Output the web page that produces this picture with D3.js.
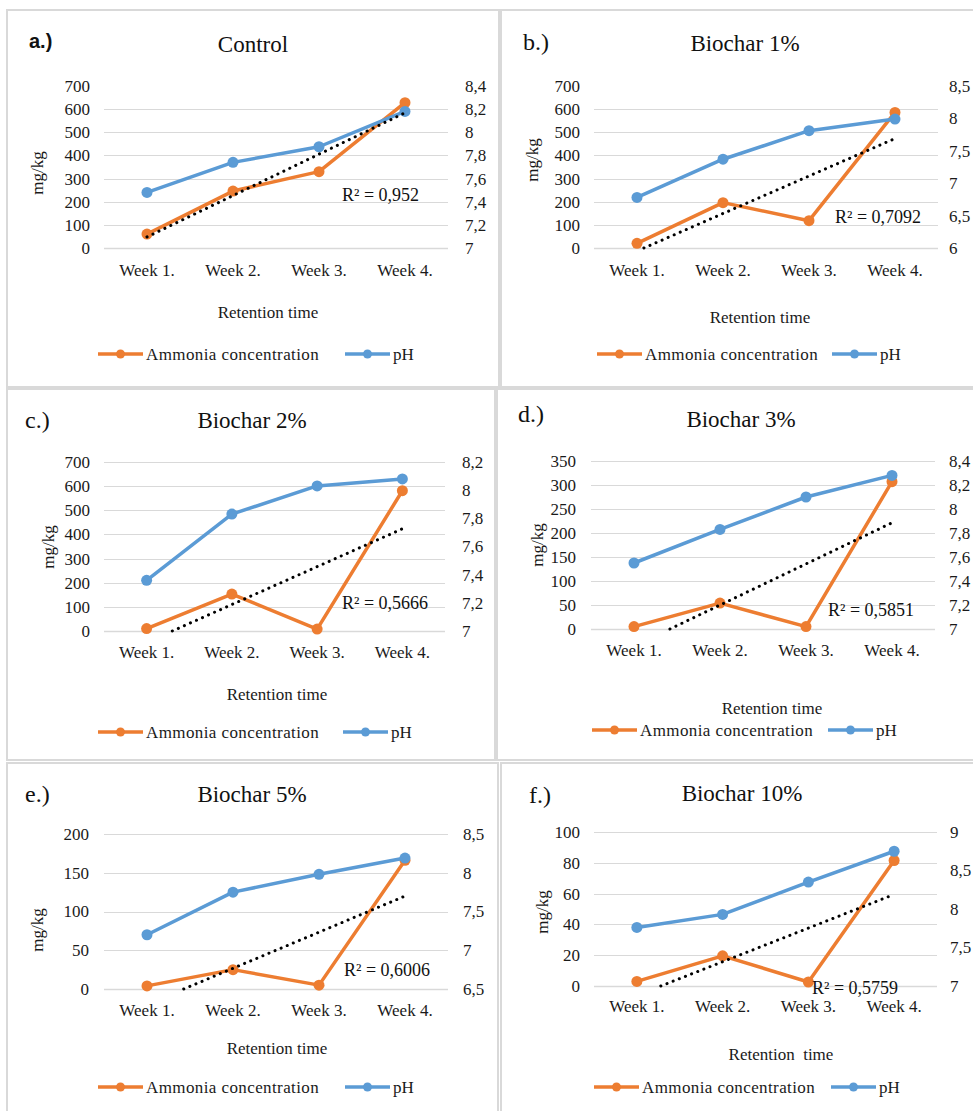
<!DOCTYPE html>
<html>
<head>
<meta charset="utf-8">
<script src="https://cdn.jsdelivr.net/npm/d3@7"></script>
<style>
  html, body { margin: 0; padding: 0; background: #fff; }
  svg { display: block; }
</style>
</head>
<body>
<svg id="chart" width="973" height="1111"></svg>
<script>
// ---------- DATA ----------
const weeks = ["Week 1.", "Week 2.", "Week 3.", "Week 4."];
const panelLetters = ["a.)", "b.)", "c.)", "d.)", "e.)", "f.)"];
const panelTitles = ["Control", "Biochar 1%", "Biochar 2%", "Biochar 3%", "Biochar 5%", "Biochar 10%"];
const seriesNames = ["Ammonia concentration", "pH"];
const xAxisTitles = ["Retention time", "Retention time", "Retention time", "Retention time", "Retention time", "Retention  time"];
const yAxisTitle = "mg/kg";

const ammoniaControl = [60, 246, 330, 628];
const ammoniaB1 = [20, 196, 118, 586];
const ammoniaB2 = [10, 153, 8, 581];
const ammoniaB3 = [5, 54, 5, 307];
const ammoniaB5 = [4, 25, 5, 166];
const ammoniaB10 = [3, 19.6, 2.6, 81.5];

const phControl = [7.48, 7.74, 7.875, 8.18];
const phB1 = [6.78, 7.37, 7.81, 7.99];
const phB2 = [7.36, 7.83, 8.03, 8.08];
const phB3 = [7.55, 7.83, 8.10, 8.28];
const phB5 = [7.20, 7.75, 7.98, 8.19];
const phB10 = [7.76, 7.93, 8.35, 8.75];

const r2Labels = ["R² = 0,952", "R² = 0,7092", "R² = 0,5666", "R² = 0,5851", "R² = 0,6006", "R² = 0,5759"];

const leftMax = [700, 700, 700, 350, 200, 100];
const leftStep = [100, 100, 100, 50, 50, 20];
const rightMin = [7, 6, 7, 7, 6.5, 7];
const rightMax = [8.4, 8.5, 8.2, 8.4, 8.5, 9];
const rightStep = [0.2, 0.5, 0.2, 0.2, 0.5, 0.5];

const ammoniaAll = [ammoniaControl, ammoniaB1, ammoniaB2, ammoniaB3, ammoniaB5, ammoniaB10];
const phAll = [phControl, phB1, phB2, phB3, phB5, phB10];

// ---------- LAYOUT ----------
const layout = [
  { box:[7,10,492,377], letter:[29,48], letterSans:true, title:[253,52], plot:[104,448,86,248], xlabY:276, axT:[268,318], legY:354, legO:98, legB:345, mg:[37,173], r2:[342,201], rX:465, lX:90, topGrid:false },
  { box:[501,10,480,377], letter:[523,50], title:[745,51], plot:[594,938,86,248], xlabY:276, axT:[760,323], legY:354, legO:597, legB:832, mg:[532,160], r2:[835,223], rX:949, lX:580, topGrid:false },
  { box:[7,389,488,371], letter:[25,428], title:[252,428], plot:[104,445,462,631], xlabY:658, axT:[277,700], legY:732, legO:98, legB:343, mg:[48,547], r2:[342,609], rX:462, lX:90, topGrid:true },
  { box:[497,389,480,371], letter:[518,422], title:[741,427], plot:[591,935,461,629], xlabY:656, axT:[772,714], legY:730, legO:592, legB:828, mg:[537,545], r2:[828,616], rX:949, lX:576, topGrid:true },
  { box:[7,763,491,352], letter:[25,802], title:[252,802], plot:[104,448,834,989], xlabY:1016, axT:[277,1054], legY:1087, legO:98, legB:345, mg:[37,930], r2:[344,976], rX:463, lX:89, topGrid:true },
  { box:[501,763,480,352], letter:[529,803], title:[742,801], plot:[594,937,832,986], xlabY:1012, axT:[781,1060], legY:1087, legO:594, legB:831, mg:[542,912], r2:[812,994], rX:950, lX:580, topGrid:true }
];

const SERIF = "'Liberation Serif', Tinos, 'Times New Roman', serif";
const SANS = "'Liberation Sans', Arimo, Arial, sans-serif";
const ORANGE = "#ED7D31", BLUE = "#5B9BD5", GRID = "#d9d9d9", INK = "#1a1a1a";
const fmt = d3.formatLocale({decimal: ",", thousands: " ", grouping: [3], currency: ["", ""]}).format(".2~f");

const svg = d3.select("#chart");

function range(a, b, s) { const out = []; const n = Math.round((b - a) / s); for (let i = 0; i <= n; i++) out.push(+(a + i * s).toFixed(6)); return out; }

function txt(sel, size) {
  return sel.attr("font-family", SERIF).attr("font-size", size).attr("fill", INK);
}

panelTitles.forEach((title, i) => {
  const L = layout[i];
  const g = svg.append("g");
  const [px0, px1, pyTop, pyBot] = L.plot;

  // panel frame
  g.append("rect").attr("x", L.box[0]).attr("y", L.box[1]).attr("width", L.box[2]).attr("height", L.box[3])
    .attr("fill", "none").attr("stroke", GRID).attr("stroke-width", 2);

  const x = d3.scaleBand().domain(weeks).range([px0, px1]).padding(0);
  const xc = d => x(d) + x.bandwidth() / 2;
  const yL = d3.scaleLinear().domain([0, leftMax[i]]).range([pyBot, pyTop]);
  const yR = d3.scaleLinear().domain([rightMin[i], rightMax[i]]).range([pyBot, pyTop]);

  const lTicks = range(0, leftMax[i], leftStep[i]);
  const rTicks = range(rightMin[i], rightMax[i], rightStep[i]);

  // gridlines
  g.append("g").selectAll("line").data(lTicks.filter(t => L.topGrid || t < leftMax[i])).join("line")
    .attr("x1", px0).attr("x2", px1).attr("y1", d => Math.round(yL(d)) + 0.5).attr("y2", d => Math.round(yL(d)) + 0.5)
    .attr("stroke", GRID).attr("stroke-width", d => d === 0 ? 1.6 : 1.2);

  // left tick labels
  txt(g.append("g").selectAll("text").data(lTicks).join("text"), 17)
    .attr("x", L.lX).attr("y", d => yL(d)).attr("dy", "0.35em").attr("text-anchor", "end")
    .text(d => fmt(d));
  // right tick labels
  txt(g.append("g").selectAll("text").data(rTicks).join("text"), 17)
    .attr("x", L.rX).attr("y", d => yR(d)).attr("dy", "0.35em").attr("text-anchor", "start")
    .text(d => fmt(d));
  // x labels
  txt(g.append("g").selectAll("text").data(weeks).join("text"), 17)
    .attr("x", d => xc(d)).attr("y", L.xlabY).attr("text-anchor", "middle")
    .text(d => d);

  // axis titles
  txt(g.append("text"), 17).attr("x", L.axT[0]).attr("y", L.axT[1]).attr("text-anchor", "middle")
    .attr("xml:space", "preserve").style("white-space", "pre").text(xAxisTitles[i]);
  txt(g.append("text"), 17).attr("transform", `translate(${L.mg[0]},${L.mg[1]}) rotate(-90)`)
    .attr("text-anchor", "middle").attr("dominant-baseline", "central")
    .text(yAxisTitle);

  // letter + title
  g.append("text").attr("x", L.letter[0]).attr("y", L.letter[1])
    .attr("font-family", L.letterSans ? SANS : SERIF)
    .attr("font-weight", L.letterSans ? "bold" : "normal")
    .attr("font-size", L.letterSans ? 20 : 24).attr("fill", "#111").text(panelLetters[i]);
  g.append("text").attr("x", L.title[0]).attr("y", L.title[1]).attr("text-anchor", "middle")
    .attr("font-family", SERIF).attr("font-size", 23).attr("fill", "#111").text(title);

  // series
  const amm = ammoniaAll[i], ph = phAll[i];
  const lineL = d3.line().x((d, k) => xc(weeks[k])).y(d => yL(d));
  const lineR = d3.line().x((d, k) => xc(weeks[k])).y(d => yR(d));

  g.append("path").attr("d", lineL(amm)).attr("fill", "none").attr("stroke", ORANGE).attr("stroke-width", 3.5).attr("stroke-linejoin", "round");
  g.append("g").selectAll("circle").data(amm).join("circle")
    .attr("cx", (d, k) => xc(weeks[k])).attr("cy", d => yL(d)).attr("r", 5.5).attr("fill", ORANGE);

  g.append("path").attr("d", lineR(ph)).attr("fill", "none").attr("stroke", BLUE).attr("stroke-width", 3.5).attr("stroke-linejoin", "round");
  g.append("g").selectAll("circle").data(ph).join("circle")
    .attr("cx", (d, k) => xc(weeks[k])).attr("cy", d => yR(d)).attr("r", 5.5).attr("fill", BLUE);

  // linear trendline of ammonia (least squares), clipped at axis minimum
  const xs = [1, 2, 3, 4];
  const mx = d3.mean(xs), my = d3.mean(amm);
  const slope = d3.sum(xs.map((t, k) => (t - mx) * (amm[k] - my))) / d3.sum(xs.map(t => (t - mx) ** 2));
  const icpt = my - slope * mx;
  let t0 = 1; const t1 = 4;
  if (slope * t0 + icpt < 0) t0 = -icpt / slope;
  const step = x.step();
  const tx = t => xc(weeks[0]) + (t - 1) * step;
  g.append("line").attr("x1", tx(t0)).attr("y1", yL(slope * t0 + icpt)).attr("x2", tx(t1)).attr("y2", yL(slope * t1 + icpt))
    .attr("stroke", "#000").attr("stroke-width", 3).attr("stroke-linecap", "round").attr("stroke-dasharray", "0.1,6.5");

  // R² label
  g.append("text").attr("x", L.r2[0]).attr("y", L.r2[1]).attr("font-family", SERIF).attr("font-size", 18).attr("fill", "#111").text(r2Labels[i]);

  // legend
  const legItems = [{name: seriesNames[0], c: ORANGE, x: L.legO}, {name: seriesNames[1], c: BLUE, x: L.legB}];
  legItems.forEach(it => {
    g.append("line").attr("x1", it.x).attr("x2", it.x + 45).attr("y1", L.legY).attr("y2", L.legY)
      .attr("stroke", it.c).attr("stroke-width", 3.5);
    g.append("circle").attr("cx", it.x + 22.5).attr("cy", L.legY).attr("r", 4.5).attr("fill", it.c);
    txt(g.append("text"), 17).attr("x", it.x + 48).attr("y", L.legY).attr("dy", "0.35em")
      .attr("letter-spacing", it.name.length > 5 ? 0.4 : 0)
      .text(it.name);
  });
});
</script>
</body>
</html>
